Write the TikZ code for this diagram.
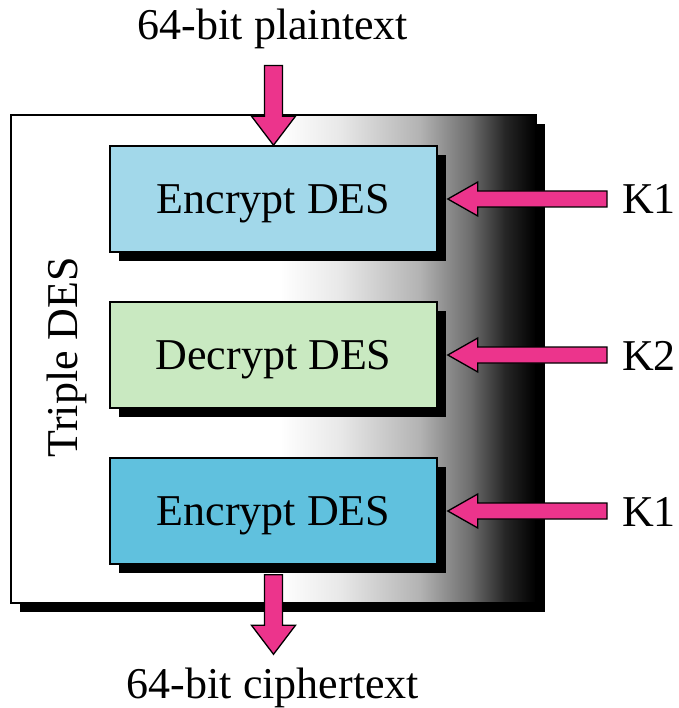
\documentclass[tikz,border=0pt]{standalone}
\usepackage{fontspec}
\setmainfont{Liberation Serif}
\usetikzlibrary{calc,shadows}
\definecolor{encA}{RGB}{162,216,234}
\definecolor{decB}{RGB}{201,233,193}
\definecolor{encC}{RGB}{96,193,222}
\definecolor{pinkarrow}{RGB}{236,52,140}
\pgfdeclarehorizontalshading{outergrad}{100bp}{color(0bp)=(white); color(50.6bp)=(white); color(56.33bp)=(black!9); color(63.95bp)=(black!30); color(68.71bp)=(black!57); color(72.05bp)=(black!85); color(75bp)=(black); color(100bp)=(black)}
\newcommand\hblk[2]{\draw[blk] (#1) -- ($(#1)+(30,-17)$) -- ($(#1)+(30,-8)$) -- ($(#2)+(0,-8)$) -- ($(#2)+(0,8)$) -- ($(#1)+(30,8)$) -- ($(#1)+(30,17)$) -- cycle;}
\newcommand\vblk[2]{\draw[blk] (#1) -- ($(#1)+(22,-29)$) -- ($(#1)+(9,-29)$) -- ($(#2)+(9,0)$) -- ($(#2)+(-9,0)$) -- ($(#1)+(-9,-29)$) -- ($(#1)+(-22,-29)$) -- cycle;}
\begin{document}
\begin{tikzpicture}[x=1pt,y=-1pt,
  hardshadow/.style={drop shadow={shadow xshift=9pt,shadow yshift=-9pt,fill=black,opacity=1}},
  desbox/.style={draw=black,line width=1.6pt,minimum width=327pt,minimum height=106pt,text height=29pt,text depth=0pt,hardshadow,font=\fontsize{44}{50}\selectfont},
  lbl/.style={font=\fontsize{44}{50}\selectfont,inner sep=0pt},
  blk/.style={fill=pinkarrow,draw=black,line width=1.3pt,line join=miter}]
\useasboundingbox (0,0) rectangle (678,708);
\node[draw=black,line width=1.6pt,shade,shading=outergrad,minimum width=525pt,minimum height=488pt,inner sep=0pt,hardshadow] (outer) at (273.5,359) {};
\node[desbox,fill=encA] (b1) at (273.5,199) {Encrypt DES};
\node[desbox,fill=decB] (b2) at (273.5,355) {Decrypt DES};
\node[desbox,fill=encC] (b3) at (273.5,511) {Encrypt DES};
\node[lbl,anchor=base] (pt) at (273,40) {64-bit plaintext};
\node[lbl,anchor=base] (ct) at (273,698) {64-bit ciphertext};
\node[lbl,anchor=base west] (k1) at (622,214) {K1};
\node[lbl,anchor=base west] (k2) at (622,370) {K2};
\node[lbl,anchor=base west] (k3) at (622,526) {K1};
\node[lbl,anchor=base,rotate=90] (tdes) at (77,357) {Triple DES};
% arrows
\coordinate (ptip) at (b1.north);
\coordinate (ptail) at ($(b1.north |- pt.south)+(0,16)$);
\vblk{ptip}{ptail}
\coordinate (ctip) at ($(b3.south |- ct.north)+(0,-13)$);
\coordinate (ctail) at ($(b3.south)+(0,10)$);
\vblk{ctip}{ctail}
\coordinate (k1tip) at ($(b1.east)+(10,0)$);
\coordinate (k1tail) at ($(k1.west |- b1.east)+(-15,0)$);
\hblk{k1tip}{k1tail}
\coordinate (k2tip) at ($(b2.east)+(10,0)$);
\coordinate (k2tail) at ($(k2.west |- b2.east)+(-15,0)$);
\hblk{k2tip}{k2tail}
\coordinate (k3tip) at ($(b3.east)+(10,0)$);
\coordinate (k3tail) at ($(k3.west |- b3.east)+(-15,0)$);
\hblk{k3tip}{k3tail}
\end{tikzpicture}
\end{document}
